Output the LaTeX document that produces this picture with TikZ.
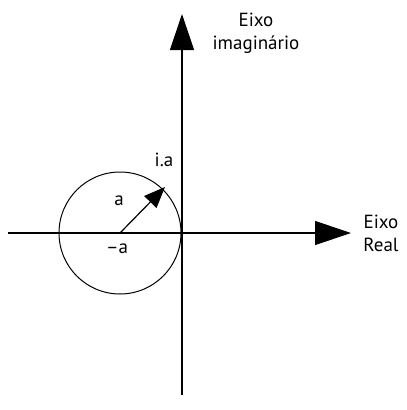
\documentclass[tikz,border=0pt]{standalone}
\usepackage{fontspec}
\setmainfont{PT Sans}
\usetikzlibrary{arrows.meta}
\begin{document}
\begin{tikzpicture}[x=1pt,y=-1pt,
  lbl/.style={font=\fontsize{19}{23}\selectfont, inner sep=0pt, align=center},
  axis/.style={line width=1.2pt, -{Triangle[length=36pt,width=24pt]}},
  radarrow/.style={line width=1.2pt, -{Triangle[length=21pt,width=17pt]}}]
\useasboundingbox (0,0) rectangle (407,410);
\coordinate (vb) at (182,395);
\coordinate (vt) at (182,14);
\coordinate (hl) at (8,233);
\coordinate (hr) at (351,233);
\coordinate (c) at (120,233);
\coordinate (r) at (165,187);
\draw[line width=1pt] (c) circle[radius=61pt];
\draw[axis] (vb) -- (vt);
\draw[axis] (hl) -- (hr);
\draw[radarrow] (c) -- (r);
\node[lbl] (im) at (256,33) {Eixo\\imaginário};
\node[lbl] (re) at (381,233) {Eixo\\Real};
\node[lbl] (ia) at (164,160) {i.a};
\node[lbl] (a) at (119,201) {a};
\node[lbl] (ma) at (117,249) {–a};
\end{tikzpicture}
\end{document}
